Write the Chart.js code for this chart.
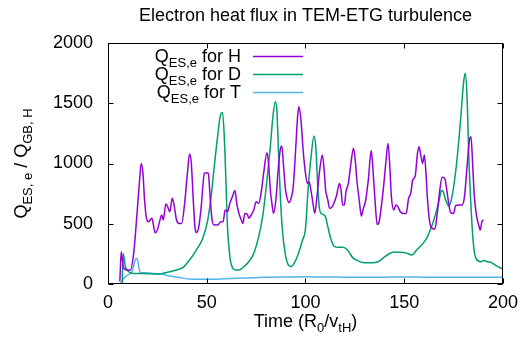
<!DOCTYPE html>
<html>
<head>
<meta charset="utf-8">
<script src="https://cdn.jsdelivr.net/npm/chart.js@4"></script>
<style>
  html, body { margin: 0; padding: 0; background: #fff; }
</style>
</head>
<body>
<canvas id="fluxChart" width="526" height="345"></canvas>
<script>
// time in R0/vtH, heat flux in gyro-Bohm units (H)
const tH = [
  6, 6.7, 7.7, 9.7, 11.3, 13, 14.7, 16, 16.8, 17.7,
  18.5, 19.7, 20.5, 22.2, 23, 23.8, 25, 26.3, 27.2, 28,
  29.3, 30.2, 31.3, 32.5, 33.3, 34.7, 36, 37.3, 38.8, 40.2,
  41.3, 42.2, 43, 44, 44.7, 46, 47.2, 48.8, 49.7, 50.8,
  51.7, 52.7, 53.8, 55.5, 57.2, 58.3, 59.3, 60.5, 61.7, 63,
  64.3, 65.2, 66.3, 67.5, 68.3, 69.3, 70.5, 71.3, 72.5, 73.8,
  75, 76.3, 77.5, 78.8, 80.5, 81.3, 82.2, 83, 83.8, 85,
  86.3, 87.2, 88, 88.8, 89.7, 90.5, 91.7, 92.7, 93.8, 95,
  96, 96.7, 97.7, 98.8, 100, 101, 101.8, 103, 103.8, 104.7,
  105.8, 107.2, 108.5, 109.3, 110.2, 111.3, 112.2, 113.3, 114.7, 115.8,
  117.2, 118, 118.8, 119.7, 120.5, 121.7, 123, 124.3, 125.2, 126,
  127.2, 128.3, 129.3, 130.5, 131.8, 133.3, 134.3, 135.2, 136.3, 137.3,
  138.5, 139.7, 140.8, 141.8, 142.7, 143.5, 144.7, 145.8, 146.8, 148,
  149.7, 151, 152.2, 153.3, 154.3, 155.5, 156.7, 157.5, 158.5, 159.3,
  160.2, 161, 161.8, 163, 164.2, 165.5, 166.7, 168, 169.2, 170.5,
  171.3, 172.5, 173.5, 175, 176, 177.7, 179.3, 180.5, 181.8, 183,
  183.8, 184.7, 185.5, 186.7, 187.7, 188.5, 189.3, 190.2
];
const qH = [
  20, 268, 144, 116, 116, 254, 586, 863, 1001, 918,
  697, 531, 517, 545, 490, 426, 448, 531, 573, 531,
  664, 642, 600, 711, 669, 531, 503, 503, 669, 918,
  1079, 1001, 752, 476, 426, 476, 642, 918, 924, 918,
  725, 531, 490, 490, 517, 517, 614, 600, 669, 725,
  775, 669, 586, 531, 503, 586, 581, 545, 573, 614,
  683, 669, 752, 918, 1090, 1001, 780, 669, 586, 697,
  974, 1112, 1145, 1001, 808, 725, 675, 711, 808, 1112,
  1389, 1472, 1361, 1112, 918, 835, 849, 752, 669, 586,
  725, 946, 1070, 974, 780, 697, 628, 636, 683, 739,
  835, 780, 656, 656, 766, 835, 1001, 1126, 1029, 863,
  697, 564, 628, 697, 863, 1107, 918, 697, 495, 517,
  656, 835, 1029, 1167, 974, 725, 614, 656, 642, 600,
  586, 586, 711, 752, 863, 891, 1084, 1140, 1057, 1001,
  1070, 918, 697, 503, 462, 454, 586, 780, 885, 877,
  808, 669, 592, 586, 650, 656, 656, 725, 974, 1195,
  1223, 974, 725, 559, 490, 448, 517, 531
];

// D
const tD = [
  7.2, 7.7, 8.8, 10.5, 13, 18, 24.7, 31.3, 34.7, 38,
  41.3, 44.7, 48, 50.5, 52.2, 53.8, 55.5, 57.2, 58, 58.8,
  59.7, 60.5, 61.7, 63, 64.7, 66.3, 68.8, 71.3, 73.8, 76.3,
  78.3, 80.5, 82.2, 83.5, 84.7, 85.5, 86.3, 87.2, 88.3, 89.7,
  91.3, 92.7, 94.7, 96.7, 98.5, 100, 101.3, 103, 104.3, 105.2,
  106.3, 107.2, 108.3, 110, 111.3, 113, 114.7, 116.7, 118.8, 121.3,
  123.8, 126.3, 129.7, 133.8, 136.7, 139.7, 142.2, 144.7, 147.2, 150.5,
  153.8, 156.3, 158.8, 161.3, 163.8, 166, 167.7, 168.8, 169.7, 171,
  172.5, 173.8, 175.5, 177.2, 178.8, 180, 180.8, 181.8, 182.7, 183.8,
  185, 186.3, 188.8, 190.5, 192.2, 193.8, 196.3, 198.8, 200
];
const qD = [
  0, 254, 144, 102, 88, 88, 83, 102, 116, 138,
  199, 282, 380, 531, 725, 974, 1223, 1416, 1422, 1250,
  863, 476, 227, 136, 116, 116, 144, 185, 254, 393,
  559, 863, 1140, 1389, 1513, 1444, 1112, 752, 448, 254,
  158, 144, 185, 268, 365, 460, 780, 1084, 1228, 1140,
  780, 614, 581, 564, 476, 365, 310, 304, 304, 282,
  221, 194, 177, 177, 185, 221, 249, 266, 263, 260,
  241, 282, 324, 379, 476, 586, 697, 775, 766, 697,
  647, 697, 863, 1112, 1416, 1665, 1748, 1555, 1057, 642,
  337, 213, 185, 194, 185, 180, 155, 133, 125
];

// T
const tT = [6, 7, 8, 10, 12, 13, 13.8, 14.7, 15.5, 16.3, 18.8, 23, 27.2, 31.3, 36.3, 41.3,
  48, 55, 62, 70, 80, 90, 100, 110, 120, 130, 140, 150, 160, 170, 180, 190, 200];
const qT = [0, 20, 45, 75, 100, 150, 199, 213, 150, 95, 94, 88, 80, 66, 53, 41,
  39, 40, 45, 50, 55, 58, 60, 58, 57, 56, 57, 58, 57, 56, 57, 56, 56];

const xTicks = [0, 50, 100, 150, 200];
const yTicks = [0, 500, 1000, 1500, 2000];

const FONT = "'Liberation Sans', Arial, Helvetica, sans-serif";
const BIG = 18, SMALL = 13, DROP = 5;

const toPoints = (ts, qs) => ts.map((t, i) => ({ x: t, y: qs[i] }));

function drawRich(ctx, parts, x, y, align) {
  let w = 0;
  parts.forEach(([txt, sub]) => {
    ctx.font = (sub ? SMALL : BIG) + 'px ' + FONT;
    w += ctx.measureText(txt).width;
  });
  let cx = align === 'center' ? x - w / 2 : align === 'right' ? x - w : x;
  ctx.textAlign = 'left';
  ctx.textBaseline = 'alphabetic';
  parts.forEach(([txt, sub]) => {
    ctx.font = (sub ? SMALL : BIG) + 'px ' + FONT;
    ctx.fillText(txt, cx, sub ? y + DROP : y);
    cx += ctx.measureText(txt).width;
  });
}

const legendNames = [
  [['Q', 0], ['ES,e', 1], [' for H', 0]],
  [['Q', 0], ['ES,e', 1], [' for D', 0]],
  [['Q', 0], ['ES,e', 1], [' for T', 0]]
];

const framePlugin = {
  id: 'gnuplotFrame',
  afterDraw(chart) {
    const { ctx, chartArea: a, scales } = chart;
    ctx.save();
    ctx.strokeStyle = '#000';
    ctx.lineWidth = 1;
    const L = Math.round(a.left) + 0.5, R = Math.round(a.right) - 0.5;
    const T = Math.round(a.top) + 0.5, B = Math.round(a.bottom) - 0.5;
    ctx.strokeRect(L, T, R - L, B - T);

    // inward ticks on all four sides
    ctx.beginPath();
    scales.x.ticks.forEach(t => {
      const px = Math.round(scales.x.getPixelForValue(t.value)) + 0.5;
      ctx.moveTo(px, B); ctx.lineTo(px, B - 5);
      ctx.moveTo(px, T); ctx.lineTo(px, T + 5);
    });
    scales.y.ticks.forEach(t => {
      const py = Math.round(scales.y.getPixelForValue(t.value)) + 0.5;
      ctx.moveTo(L, py); ctx.lineTo(L + 5, py);
      ctx.moveTo(R, py); ctx.lineTo(R - 5, py);
    });
    ctx.stroke();

    ctx.fillStyle = '#000';
    // title
    drawRich(ctx, [['Electron heat flux in TEM-ETG turbulence', 0]], (a.left + a.right) / 2, 21, 'center');
    // x axis title
    drawRich(ctx, [['Time (R', 0], ['0', 1], ['/v', 0], ['tH', 1], [')', 0]], (a.left + a.right) / 2, 327, 'center');
    // y axis title
    ctx.save();
    ctx.translate(27, (a.top + a.bottom) / 2);
    ctx.rotate(-Math.PI / 2);
    drawRich(ctx, [['Q', 0], ['ES, e', 1], [' / Q', 0], ['GB, H', 1]], 0, 0, 'center');
    ctx.restore();

    // key, gnuplot style
    chart.data.datasets.forEach((ds, i) => {
      const base = 62 + i * 18;
      ctx.fillStyle = '#000';
      drawRich(ctx, legendNames[i], 241, base, 'right');
      ctx.strokeStyle = ds.borderColor;
      ctx.lineWidth = ds.borderWidth;
      ctx.beginPath();
      ctx.moveTo(253, base - 5.5);
      ctx.lineTo(303, base - 5.5);
      ctx.stroke();
    });
    ctx.restore();
  }
};

new Chart(document.getElementById('fluxChart'), {
  type: 'line',
  data: {
    datasets: [
      { label: 'H', data: toPoints(tH, qH), borderColor: '#9400d3', borderWidth: 1.5 },
      { label: 'D', data: toPoints(tD, qD), borderColor: '#009e73', borderWidth: 1.5 },
      { label: 'T', data: toPoints(tT, qT), borderColor: '#56b4e9', borderWidth: 1.5 }
    ]
  },
  options: {
    responsive: false,
    animation: false,
    devicePixelRatio: 1,
    layout: { padding: { left: 0, right: 18, top: 43, bottom: 0 } },
    elements: { point: { radius: 0 }, line: { tension: 0.25, cubicInterpolationMode: 'monotone' } },
    plugins: { legend: { display: false }, title: { display: false }, tooltip: { enabled: false } },
    scales: {
      x: {
        type: 'linear', min: 0, max: 200,
        afterBuildTicks: s => { s.ticks = xTicks.map(v => ({ value: v })); },
        afterFit: s => { s.height = 61; },
        grid: { display: false, drawTicks: false },
        border: { display: false },
        ticks: { color: '#000', padding: 8, maxRotation: 0, callback: v => String(v), font: { family: FONT, size: BIG } }
      },
      y: {
        min: 0, max: 2000,
        afterBuildTicks: s => { s.ticks = yTicks.map(v => ({ value: v })); },
        afterFit: s => { s.width = 108; },
        grid: { display: false, drawTicks: false },
        border: { display: false },
        ticks: { color: '#000', padding: 15, callback: v => String(v), font: { family: FONT, size: BIG } }
      }
    }
  },
  plugins: [framePlugin]
});
</script>
</body>
</html>
